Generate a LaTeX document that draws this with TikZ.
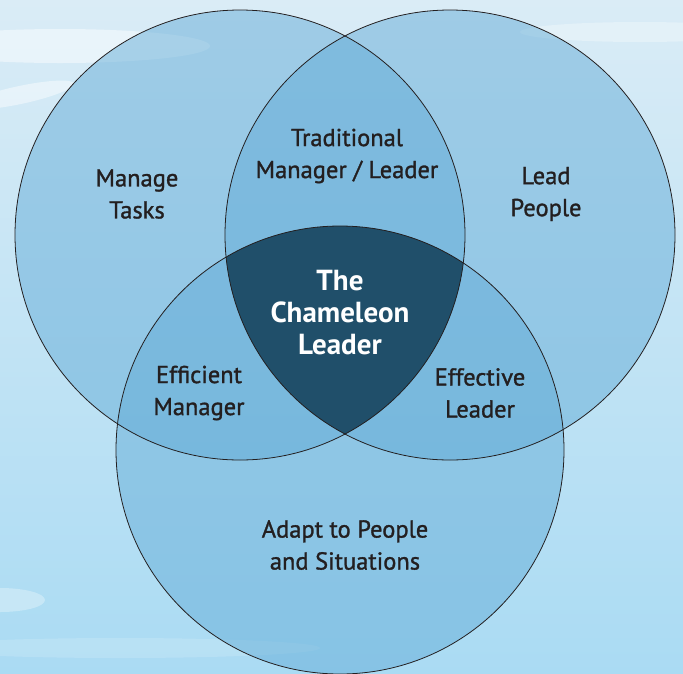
\documentclass[tikz,border=0pt]{standalone}
\usepackage{fontspec}
\setmainfont{PT Sans}
\newfontfamily\labfont{PT Sans}[FakeBold=1.2]
\definecolor{bgtop}{RGB}{218,236,246}
\definecolor{bgbot}{RGB}{170,219,243}
\definecolor{circ}{RGB}{96,170,214}
\definecolor{core}{RGB}{32,79,106}
\definecolor{ink}{RGB}{35,31,32}
\tikzset{
  venn/.style={fill=circ, fill opacity=0.48},
  rim/.style={draw=ink, line width=0.8pt},
  cloud/.style={fill=white, fill opacity=0.45},
  lab/.style={text=ink, font=\labfont\fontsize{24.5}{32}\selectfont, align=center, inner sep=0pt},
  corelab/.style={text=white, font=\fontsize{29}{32}\selectfont\bfseries, align=center, inner sep=0pt}
}
\begin{document}
\begin{tikzpicture}[x=1pt,y=-1pt]
\useasboundingbox (0,0) rectangle (683,673);
\shade[top color=bgtop, bottom color=bgbot] (0,0) rectangle (683,673);
% clouds
\fill[cloud] (60,46) ellipse [x radius=150, y radius=17];
\fill[cloud, rotate around={12:(20,95)}] (20,95) ellipse [x radius=55, y radius=9];
\fill[cloud, opacity=0.3] (0,600) ellipse [x radius=45, y radius=12];
\fill[cloud, opacity=0.15] (120,648) ellipse [x radius=200, y radius=10];
\fill[cloud, opacity=0.3] (640,32) ellipse [x radius=120, y radius=10];
% circle centres
\coordinate (L) at (240,235);
\coordinate (R) at (450,235);
\coordinate (B) at (340,450);
\fill[venn] (L) circle (225);
\fill[venn] (R) circle (225);
\fill[venn] (B) circle (224);
\begin{scope}
  \clip (L) circle (225);
  \clip (R) circle (225);
  \fill[core] (B) circle (224);
\end{scope}
\draw[rim] (L) circle (225);
\draw[rim] (R) circle (225);
\draw[rim] (B) circle (224);
% labels
\node[lab] (tasks) at (137,194) {Manage\\Tasks};
\node[lab] (trad) at (347,156) {Traditional\\Manager / Leader};
\node[lab] (people) at (546,194) {Lead\\People};
\node[corelab] (cham) at (340,313) {The\\Chameleon\\Leader};
\node[lab] (eff) at (199,393) {Efficient\\Manager};
\node[lab] (effl) at (480,393) {Effective\\Leader};
\node[lab] (adapt) at (345,545) {Adapt to People\\and Situations};
\end{tikzpicture}
\end{document}
